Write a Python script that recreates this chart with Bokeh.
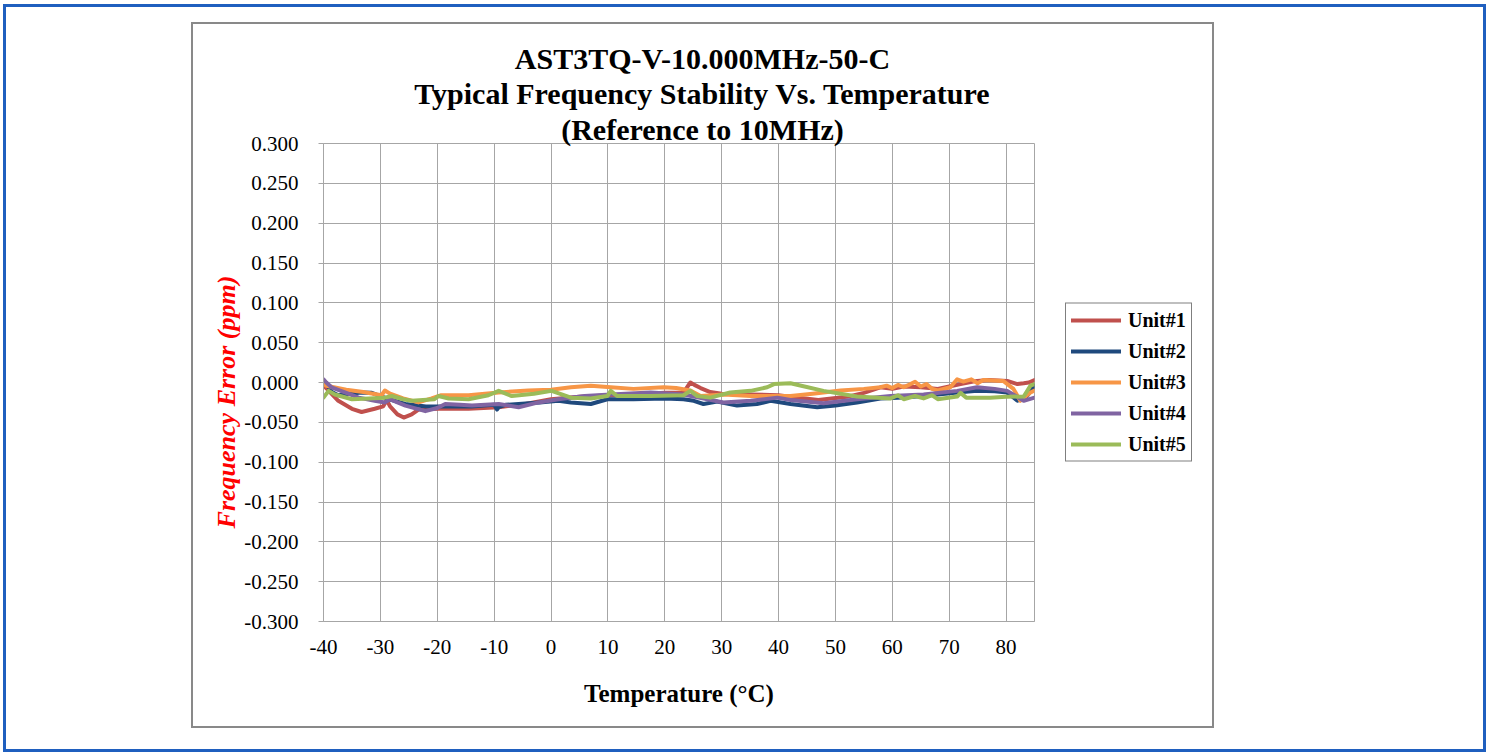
from bokeh.plotting import figure
from bokeh.models import (Range1d, FixedTicker, NumeralTickFormatter, Legend,
                          LegendItem, Label)
from bokeh.embed import file_html
from bokeh.resources import INLINE

# ---------------- data ----------------
title_lines = ["AST3TQ-V-10.000MHz-50-C",
               "Typical Frequency Stability Vs. Temperature",
               "(Reference to 10MHz)"]
x_label = "Temperature (°C)"
y_label = "Frequency Error (ppm)"
x_ticks = [-40, -30, -20, -10, 0, 10, 20, 30, 40, 50, 60, 70, 80]
y_ticks = [-0.300, -0.250, -0.200, -0.150, -0.100, -0.050, 0.000,
           0.050, 0.100, 0.150, 0.200, 0.250, 0.300]
series_names = ["Unit#1", "Unit#2", "Unit#3", "Unit#4", "Unit#5"]
series_colors = ["#C0504D", "#1F497D", "#F79646", "#8064A2", "#9BBB59"]

t_unit1 = [-40, -39.4, -37.4, -35, -33.3, -31, -29.5, -28.9, -28.3, -27, -25.9,
           -24.5, -23.3, -19.8, -14.5, -9.2, -4.5, 0, 5, 10.5, 15, 20, 23.3,
           24.5, 25.2, 26.3, 28, 30, 35, 40, 42, 47, 52, 55, 57.9, 60, 62, 65,
           68, 70, 72, 74.9, 77, 80.2, 82, 83.1, 84, 85]
v_unit1 = [-0.004, -0.008, -0.023, -0.033, -0.037, -0.033, -0.030, -0.022,
           -0.030, -0.040, -0.044, -0.040, -0.034, -0.033, -0.033, -0.031,
           -0.027, -0.021, -0.018, -0.016, -0.015, -0.013, -0.0125, 0.000,
           -0.003, -0.007, -0.012, -0.014, -0.015, -0.016, -0.018, -0.022,
           -0.018, -0.013, -0.006, -0.008, -0.005, -0.006, -0.008, -0.005,
           -0.002, 0.002, 0.003, 0.002, -0.002, -0.001, 0.000, 0.003]

t_unit2 = [-40, -39.5, -38.5, -37.4, -35.5, -33.3, -31.5, -30, -28, -25.6, -22,
           -18, -14, -10, -9.5, -9.2, -8, -5.7, -2, 1.3, 3.5, 7, 9.9, 14.5, 20,
           23.3, 25.1, 26.8, 29.2, 32.7, 36.2, 38.6, 42.1, 46.8, 50, 53.8, 57.9,
           61, 65.5, 71.4, 74.9, 78, 80.2, 82, 83.7, 85]
v_unit2 = [0.002, -0.002, -0.012, -0.016, -0.014, -0.0125, -0.013, -0.017,
           -0.022, -0.027, -0.030, -0.030, -0.030, -0.028, -0.034, -0.031,
           -0.028, -0.027, -0.025, -0.023, -0.025, -0.027, -0.021, -0.021,
           -0.020, -0.021, -0.023, -0.027, -0.024, -0.029, -0.027, -0.023,
           -0.027, -0.031, -0.029, -0.025, -0.020, -0.019, -0.017, -0.0125,
           -0.0105, -0.011, -0.0125, -0.023, -0.017, -0.004]

t_unit3 = [-40, -39.5, -36, -33, -29.8, -29.2, -28.3, -26, -23.3, -21, -19.3,
           -14.5, -9.2, -4, 0, 3.5, 7, 10.5, 14.5, 19.8, 22, 24.5, 26.3, 30.4,
           35.1, 42.1, 46, 50.9, 55, 57.9, 59, 60, 61, 62, 63.2, 64, 65, 66, 67,
           68, 70.2, 71.4, 72.5, 73.9, 75, 76, 79.5, 81.3, 82.5, 84.3, 85]
v_unit3 = [-0.002, -0.004, -0.009, -0.012, -0.016, -0.010, -0.014, -0.020,
           -0.025, -0.020, -0.016, -0.016, -0.0125, -0.010, -0.009, -0.006,
           -0.004, -0.006, -0.008, -0.006, -0.007, -0.010, -0.017, -0.015,
           -0.017, -0.017, -0.014, -0.010, -0.008, -0.006, -0.004, -0.007,
           -0.003, -0.006, -0.002, 0.001, -0.005, -0.002, -0.008, -0.010,
           -0.006, 0.004, 0.001, 0.004, -0.001, 0.003, 0.002, -0.008, -0.023,
           -0.0125, -0.010]

t_unit4 = [-40, -39.5, -38.6, -36, -33.8, -31, -29.2, -28.3, -27, -25.6, -22.1,
           -20, -18.6, -16, -13.9, -9.2, -5.7, -2.2, 1.3, 5.9, 10.5, 17.5, 23.3,
           27.5, 30.3, 35.1, 39.8, 42.1, 47.9, 53.8, 59.7, 65.5, 71.4, 74.9, 78,
           80.2, 83.1, 85]
v_unit4 = [0.004, 0.000, -0.006, -0.013, -0.019, -0.023, -0.025, -0.021,
           -0.025, -0.029, -0.036, -0.032, -0.027, -0.028, -0.029, -0.027,
           -0.031, -0.025, -0.021, -0.017, -0.015, -0.0125, -0.015, -0.021,
           -0.025, -0.023, -0.019, -0.022, -0.026, -0.021, -0.017, -0.015,
           -0.0105, -0.006, -0.008, -0.0105, -0.023, -0.019]

t_unit5 = [-40, -39.1, -38, -35, -32, -29.2, -28, -26, -24.5, -20.5, -19.8, -18,
           -14.5, -11, -9.2, -6.9, -3, 0.1, 1.5, 3.5, 7, 9.9, 10.5, 11.6, 17.5,
           23.3, 24.5, 25.7, 28, 31.5, 35.1, 38, 39.2, 42.1, 44, 47.9, 53.8,
           59.7, 61, 62, 64, 65.5, 67, 68, 71.4, 72, 73, 77.2, 80, 83.1, 84.3, 85]
v_unit5 = [-0.019, -0.0105, -0.015, -0.021, -0.020, -0.019, -0.017, -0.021,
           -0.023, -0.021, -0.017, -0.020, -0.021, -0.016, -0.0105, -0.017,
           -0.014, -0.0105, -0.014, -0.019, -0.020, -0.017, -0.0105, -0.017,
           -0.017, -0.016, -0.0105, -0.017, -0.019, -0.0125, -0.0105, -0.006,
           -0.002, -0.001, -0.004, -0.0105, -0.0176, -0.020, -0.016, -0.021,
           -0.017, -0.020, -0.016, -0.021, -0.0176, -0.013, -0.019, -0.019,
           -0.018, -0.0176, -0.004, -0.002]

series_t = [t_unit1, t_unit2, t_unit3, t_unit4, t_unit5]
series_v = [v_unit1, v_unit2, v_unit3, v_unit4, v_unit5]

# ---------------- figure ----------------
FL, FT = 323, 143          # frame left / top in canvas pixels
FW, FH = 711, 478          # frame size
BOTTOM = 131               # space below the frame
LEGEND_PANEL = 187         # legend width + 2 * margin

frames_css = """
:host { position: relative; overflow: visible; }
:host::before { content: ""; position: absolute; left: 3px; top: 4px;
  width: 1483px; height: 748px; border: 3px solid #1F5FBF;
  box-sizing: border-box; pointer-events: none; z-index: 10; }
:host::after { content: ""; position: absolute; left: 191px; top: 22px;
  width: 1023px; height: 706px; border: 2.5px solid #898989;
  box-sizing: border-box; pointer-events: none; z-index: 10; }
"""

p = figure(frame_width=FW, frame_height=FH, output_backend="svg",
           toolbar_location=None, title=None, stylesheets=[frames_css],
           x_range=Range1d(-40, 85), y_range=Range1d(-0.3, 0.3),
           min_border_left=FL, min_border_right=454 - LEGEND_PANEL,
           min_border_top=FT, min_border_bottom=BOTTOM)
p.background_fill_color = "white"
p.border_fill_color = "white"
p.outline_line_color = "#A6A6A6"
p.outline_line_width = 1

grid_color = "#A6A6A6"
p.xgrid.grid_line_color = grid_color
p.ygrid.grid_line_color = grid_color

serif = "Liberation Serif"
for ax in (p.xaxis[0], p.yaxis[0]):
    ax.axis_line_color = grid_color
    ax.major_tick_line_color = grid_color
    ax.minor_tick_line_color = None
    ax.major_tick_in = 0
    ax.major_label_text_font = serif
    ax.major_label_text_font_size = "21px"
    ax.major_label_text_color = "black"
    ax.axis_label_text_font = serif

p.xaxis.ticker = FixedTicker(ticks=x_ticks)
p.xaxis.major_label_overrides = {t: str(t) for t in x_ticks}
p.xaxis.major_tick_out = 0
p.xaxis.major_label_standoff = 18
p.xaxis.axis_label = x_label
p.xaxis.axis_label_text_font_size = "25px"
p.xaxis.axis_label_text_font_style = "bold"
p.xaxis.axis_label_text_color = "black"
p.xaxis.axis_label_standoff = 23

p.yaxis.ticker = FixedTicker(ticks=y_ticks)
p.yaxis.formatter = NumeralTickFormatter(format="0.000")
p.yaxis.major_tick_out = 5
p.yaxis.major_label_standoff = 20
p.yaxis.axis_label = y_label + "      "   # trailing blanks nudge it downwards
p.yaxis.axis_label_text_font_size = "26px"
p.yaxis.axis_label_text_font_style = "bold italic"
p.yaxis.axis_label_text_color = "#FF0000"
p.yaxis.axis_label_standoff = 0

renderers = []
for t, v, c in zip(series_t, series_v, series_colors):
    r = p.line(t, v, line_color=c, line_width=4, line_join="round",
               line_cap="round")
    renderers.append(r)

# legend in the right-hand side panel, 31px right of the frame
legend = Legend(items=[LegendItem(label=n, renderers=[r])
                       for n, r in zip(series_names, renderers)],
                location="center_left", orientation="vertical",
                label_text_font=serif, label_text_font_style="bold",
                label_text_font_size="20px", label_text_color="black",
                glyph_width=50, glyph_height=23, label_height=23,
                label_standoff=7, padding=5, spacing=8, margin=31,
                border_line_color="black", border_line_width=1,
                background_fill_color="white", background_fill_alpha=1)
p.add_layout(legend, "right")

# chart title: one three-line label in the panel above the frame
p.add_layout(Label(x=702 - FL, y=102, x_units="screen", y_units="screen",
                   text="\n".join(title_lines), text_align="center",
                   text_baseline="top", text_line_height=1.08,
                   text_font=serif, text_font_style="bold",
                   text_font_size="30px", text_color="black"), "above")

open("out.html", "w").write(file_html(p, INLINE))
